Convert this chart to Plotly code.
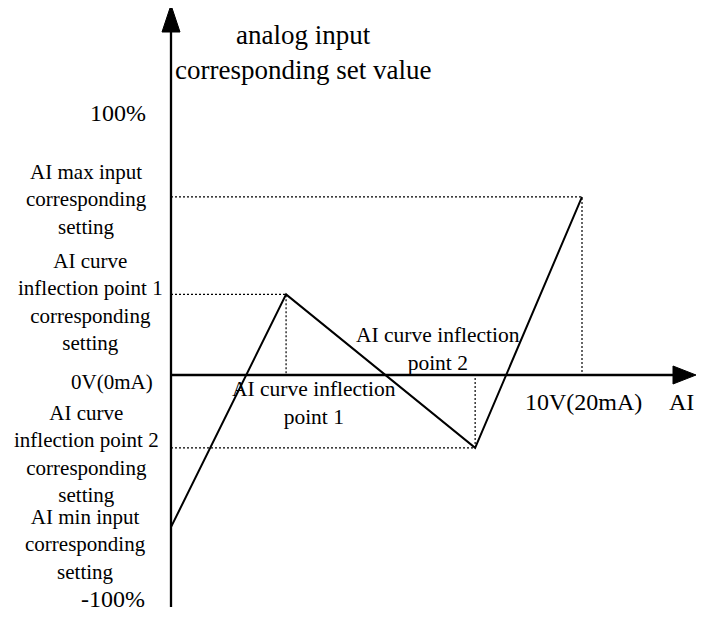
import plotly.graph_objects as go

# ---- data ----
ai_input_v = [0, 2.8, 7.4, 10]          # analog input (V)
set_value_pct = [-58.5, 31, -28, 68.5]  # corresponding set value (%)

left_labels = [
    "100%",
    "AI max input<br>corresponding<br>setting",
    "AI curve<br>inflection point 1<br>corresponding<br>setting",
    "0V(0mA)",
    "AI curve<br>inflection point 2<br>corresponding<br>setting",
    "AI min input<br>corresponding<br>setting",
    "-100%",
]
y_title = "analog input<br>corresponding set value"
x_end_label = "10V(20mA)"
x_title = "AI"
point1_label = "AI curve inflection<br>point 1"
point2_label = "AI curve inflection<br>point 2"

OFF = 8  # page body margin
W, H = 705 - OFF, 605
SX = 41.1   # px per volt
SY = 2.6    # px per percent
ORG_X, ORG_Y = 171 - OFF, 375 - OFF
X0, X1 = -ORG_X / SX, (W - ORG_X) / SX
Y0, Y1 = -(H - ORG_Y) / SY, ORG_Y / SY
FONT = "Liberation Serif, Times New Roman, serif"

fig = go.Figure()

# dotted guide lines
gx, gy = [], []
for xv, yv in zip(ai_input_v[1:], set_value_pct[1:]):
    gx += [0, xv, xv, None]
    gy += [yv, yv, 0, None]
fig.add_trace(go.Scatter(x=gx, y=gy, mode="lines",
                         line=dict(color="black", width=1.2, dash="2px,2px"),
                         hoverinfo="skip", showlegend=False))

# main curve
fig.add_trace(go.Scatter(x=ai_input_v, y=set_value_pct, mode="lines",
                         line=dict(color="black", width=2),
                         hoverinfo="skip", showlegend=False))

# axes (page-pixel extents converted to data units)
y_axis_top = (375 - 5) / SY
y_axis_bottom = -(607 - 375) / SY
x_axis_end = (696 - 171) / SX
len_y = 27 / SY
len_x = 23 / SX
hw_x = 9 / SX
hw_y = 9 / SY
fig.add_trace(go.Scatter(x=[0, 0], y=[y_axis_bottom, y_axis_top - len_y + 1], mode="lines",
                         line=dict(color="black", width=2.3),
                         hoverinfo="skip", showlegend=False))
fig.add_trace(go.Scatter(x=[0, x_axis_end - len_x + 0.1], y=[0, 0], mode="lines",
                         line=dict(color="black", width=2.3),
                         hoverinfo="skip", showlegend=False))
fig.add_trace(go.Scatter(x=[-hw_x, 0, hw_x, -hw_x],
                         y=[y_axis_top - len_y, y_axis_top, y_axis_top - len_y, y_axis_top - len_y],
                         mode="lines", fill="toself", fillcolor="black",
                         line=dict(color="black", width=1),
                         hoverinfo="skip", showlegend=False))
fig.add_trace(go.Scatter(x=[x_axis_end - len_x, x_axis_end, x_axis_end - len_x, x_axis_end - len_x],
                         y=[-hw_y, 0, hw_y, -hw_y],
                         mode="lines", fill="toself", fillcolor="black",
                         line=dict(color="black", width=1),
                         hoverinfo="skip", showlegend=False))

def ann(text, x_px, y_px, size, xanchor="center", align="center"):
    fig.add_annotation(text=text, x=(x_px - OFF) / W, y=1 - (y_px - OFF) / H,
                       xref="paper", yref="paper", showarrow=False,
                       xanchor=xanchor, yanchor="middle", align=align,
                       font=dict(family=FONT, size=size, color="black"))

ann(y_title, 303, 52, 27)
ann(left_labels[0], 148, 113, 24, xanchor="right")
ann(left_labels[1], 86.5, 199, 21)
ann(left_labels[2], 90, 302, 21)
ann(left_labels[3], 112, 382, 21)
ann(left_labels[4], 86, 454, 21)
ann(left_labels[5], 85, 544, 21)
ann(left_labels[6], 147, 599, 24, xanchor="right")
ann(point1_label, 314, 403, 21.5)
ann(point2_label, 438, 349, 21.5)
ann(x_end_label, 583, 402, 24)
ann(x_title, 696, 402, 24, xanchor="right")

fig.update_layout(
    width=W, height=H,
    margin=dict(l=0, r=0, t=0, b=0, pad=0),
    paper_bgcolor="white", plot_bgcolor="white",
    xaxis=dict(range=[X0, X1], visible=False, fixedrange=True),
    yaxis=dict(range=[Y0, Y1], visible=False, fixedrange=True),
    showlegend=False,
)

fig.write_html("out.html")
